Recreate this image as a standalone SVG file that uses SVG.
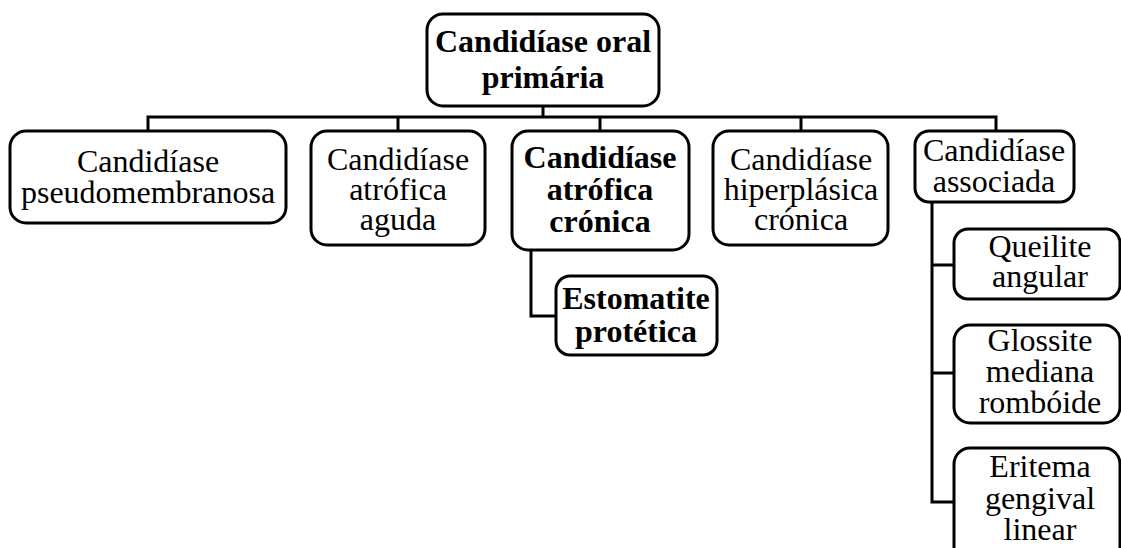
<svg xmlns="http://www.w3.org/2000/svg" width="1121" height="548" viewBox="0 0 1121 548">
<style>
.box{fill:#fff;stroke:#000;stroke-width:3}
.t{font-family:"Liberation Serif","Times New Roman",serif;font-size:32px;text-anchor:middle;fill:#000}
.b{font-weight:bold}
.c{fill:none;stroke:#000;stroke-width:3}
</style>
<rect width="1121" height="548" fill="#fff"/>
<g id="connectors">
<path class="c" d="M543 106V117M148 131V117H996V131M398 117V131M600 117V131M801 117V131"/>
<path class="c" d="M531 250V316H556"/>
<path class="c" d="M932 202V502H954M932 265H954M932 373H954"/>
</g>
<g id="n0"><rect class="box" x="427" y="14" width="232" height="92" rx="16"/>
<text class="t b" x="543" y="52">Candidíase oral</text><text class="t b" x="543" y="88">primária</text></g>
<g id="n1"><rect class="box" x="10" y="131" width="276" height="92" rx="16"/>
<text class="t" x="148" y="172">Candidíase</text><text class="t" x="148" y="203">pseudomembranosa</text></g>
<g id="n2"><rect class="box" x="311" y="131" width="174" height="114" rx="16"/>
<text class="t" x="398" y="170">Candidíase</text><text class="t" x="398" y="200">atrófica</text><text class="t" x="398" y="230">aguda</text></g>
<g id="n3"><rect class="box" x="512" y="131" width="177" height="119" rx="16"/>
<text class="t b" x="600" y="168">Candidíase</text><text class="t b" x="600" y="200">atrófica</text><text class="t b" x="600" y="232">crónica</text></g>
<g id="n4"><rect class="box" x="713" y="131" width="175" height="114" rx="16"/>
<text class="t" x="801" y="170">Candidíase</text><text class="t" x="801" y="200">hiperplásica</text><text class="t" x="801" y="230">crónica</text></g>
<g id="n5"><rect class="box" x="915" y="131" width="159" height="71" rx="14"/>
<text class="t" x="994" y="161">Candidíase</text><text class="t" x="994" y="192">associada</text></g>
<g id="n6"><rect class="box" x="556" y="276" width="161" height="79" rx="14"/>
<text class="t b" x="636" y="309">Estomatite</text><text class="t b" x="636" y="342">protética</text></g>
<g id="n7"><rect class="box" x="954" y="229" width="166" height="70" rx="14"/>
<text class="t" x="1040" y="257">Queilite</text><text class="t" x="1040" y="287">angular</text></g>
<g id="n8"><rect class="box" x="954" y="325" width="166" height="98" rx="16"/>
<text class="t" x="1040" y="351">Glossite</text><text class="t" x="1040" y="382">mediana</text><text class="t" x="1040" y="413">rombóide</text></g>
<g id="n9"><rect class="box" x="954" y="448" width="166" height="115" rx="16"/>
<text class="t" x="1040" y="477">Eritema</text><text class="t" x="1040" y="509">gengival</text><text class="t" x="1040" y="540">linear</text></g>
</svg>
